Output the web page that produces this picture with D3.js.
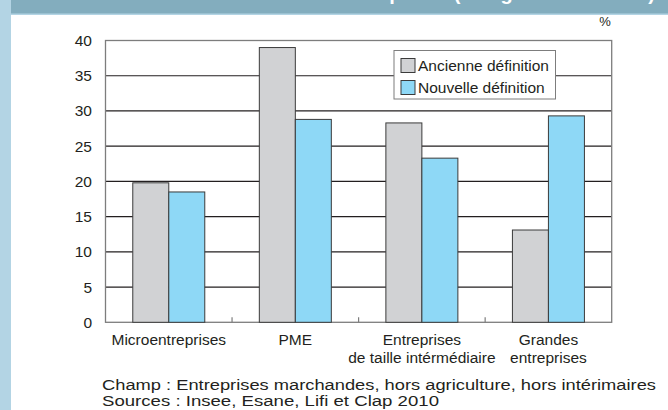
<!DOCTYPE html>
<html>
<head>
<meta charset="utf-8">
<script src="https://cdn.jsdelivr.net/npm/d3@7"></script>
<style>
  body { margin: 0; background: #fff; }
  svg { display: block; font-family: "Liberation Sans", Arial, sans-serif; }
</style>
</head>
<body>
<svg width="668" height="410"></svg>
<script>
// données
const categories = ["Microentreprises", "PME", "ETI", "GE"];
const categoryLabels = [
  ["Microentreprises"],
  ["PME"],
  ["Entreprises", "de taille intérmédiaire"],
  ["Grandes", "entreprises"]
];
const series = ["Ancienne définition", "Nouvelle définition"];
const ancienne = [19.8, 39.0, 28.3, 13.1];
const nouvelle = [18.5, 28.8, 23.3, 29.3];
const yTicks = [0, 5, 10, 15, 20, 25, 30, 35, 40];
const colors = ["#d1d2d4", "#8ed8f6"];

const svg = d3.select("svg");
const W = +svg.attr("width");

// bandeau du haut + bande gauche
svg.append("rect").attr("x", 0).attr("y", 0).attr("width", 11).attr("height", 410).attr("fill", "#b3d4e4");
svg.append("rect").attr("x", 11).attr("y", 0).attr("width", W - 11).attr("height", 15).attr("fill", "#b3d4e4");
svg.append("rect").attr("x", 11).attr("y", 0).attr("width", W - 11).attr("height", 13.5).attr("fill", "#83adbe");
// titre coupé (seuls les jambages dépassent)
svg.append("text")
  .attr("x", 655).attr("y", 0)
  .attr("text-anchor", "end")
  .attr("font-size", 20).attr("font-weight", "bold")
  .attr("fill", "#fff")
  .text("Entreprises (catégorie de la LME)");

// zone du graphique
const margin = { left: 105.5, right: 668 - 611.7, top: 40.5, bottom: 410 - 322.3 };
const x = d3.scaleBand().domain(categories).range([margin.left, W - margin.right]).padding(0);
const y = d3.scaleLinear().domain([0, 40]).range([410 - margin.bottom, margin.top]);
const groupW = 72;
const xs = d3.scaleBand().domain(series).range([0, groupW]);

// grille
svg.append("g").selectAll("line")
  .data(yTicks.filter((d) => d > 0 && d < 40))
  .enter().append("line")
  .attr("x1", margin.left).attr("x2", W - margin.right)
  .attr("y1", (d) => y(d)).attr("y2", (d) => y(d))
  .attr("stroke", "#231f20").attr("stroke-width", 1.2);

// cadre
svg.append("rect")
  .attr("x", margin.left).attr("y", y(40))
  .attr("width", W - margin.right - margin.left).attr("height", y(0) - y(40))
  .attr("fill", "none").attr("stroke", "#7d7d7d").attr("stroke-width", 1.3);

// petits traits entre catégories
svg.append("g").selectAll("line")
  .data(categories.slice(1))
  .enter().append("line")
  .attr("x1", (d) => x(d)).attr("x2", (d) => x(d))
  .attr("y1", y(0)).attr("y2", y(0) - 5)
  .attr("stroke", "#7d7d7d").attr("stroke-width", 1.2);

// barres
const data = categories.map((c, i) => ({ cat: c, vals: [ancienne[i], nouvelle[i]] }));
const groups = svg.append("g").selectAll("g")
  .data(data).enter().append("g")
  .attr("transform", (d) => `translate(${x(d.cat) + (x.bandwidth() - groupW) / 2},0)`);
groups.selectAll("rect")
  .data((d) => d.vals.map((v, j) => ({ s: series[j], v, j })))
  .enter().append("rect")
  .attr("x", (d) => xs(d.s))
  .attr("y", (d) => y(d.v))
  .attr("width", xs.bandwidth())
  .attr("height", (d) => y(0) - y(d.v))
  .attr("fill", (d) => colors[d.j])
  .attr("stroke", "#3b3b3b").attr("stroke-width", 1);

// axe y (étiquettes)
svg.append("g").selectAll("text")
  .data(yTicks).enter().append("text")
  .attr("x", 92).attr("y", (d) => y(d)).attr("dy", "0.35em")
  .attr("text-anchor", "end").attr("font-size", 15.5).attr("fill", "#231f20")
  .text((d) => d);

// axe x (étiquettes)
svg.append("g").selectAll("text")
  .data(categories).enter().append("text")
  .attr("text-anchor", "middle").attr("font-size", 15.5).attr("fill", "#231f20")
  .attr("transform", (d) => `translate(${x(d) + x.bandwidth() / 2},345)`)
  .each(function (d, i) {
    d3.select(this).selectAll("tspan")
      .data(categoryLabels[i]).enter().append("tspan")
      .attr("x", 0).attr("y", (t, k) => k * 18)
      .text((t) => t);
  });

// unité
svg.append("text").attr("x", 605).attr("y", 26).attr("text-anchor", "middle")
  .attr("font-size", 13).attr("fill", "#231f20").text("%");

// légende
const leg = svg.append("g");
leg.append("rect").attr("x", 394).attr("y", 50.5).attr("width", 161.5).attr("height", 48.5)
  .attr("fill", "#fff").attr("stroke", "#7d7d7d").attr("stroke-width", 1);
series.forEach((s, i) => {
  leg.append("rect").attr("x", 401).attr("y", 58.5 + i * 22).attr("width", 14).attr("height", 14)
    .attr("fill", colors[i]).attr("stroke", "#3b3b3b").attr("stroke-width", 1);
  leg.append("text").attr("x", 418).attr("y", 70.5 + i * 22)
    .attr("font-size", 15.5).attr("fill", "#231f20").text(s);
});

// notes (texte un peu étiré comme dans l'original)
const notes = [
  "Champ : Entreprises marchandes, hors agriculture, hors intérimaires",
  "Sources : Insee, Esane, Lifi et Clap 2010"
];
const noteWidths = [554, 337];
svg.append("g").selectAll("text")
  .data(notes).enter().append("text")
  .attr("x", 102).attr("y", (d, i) => 390 + i * 16)
  .attr("font-size", 15.5).attr("fill", "#231f20")
  .attr("textLength", (d, i) => noteWidths[i])
  .attr("lengthAdjust", "spacingAndGlyphs")
  .text((d) => d);
</script>
</body>
</html>
